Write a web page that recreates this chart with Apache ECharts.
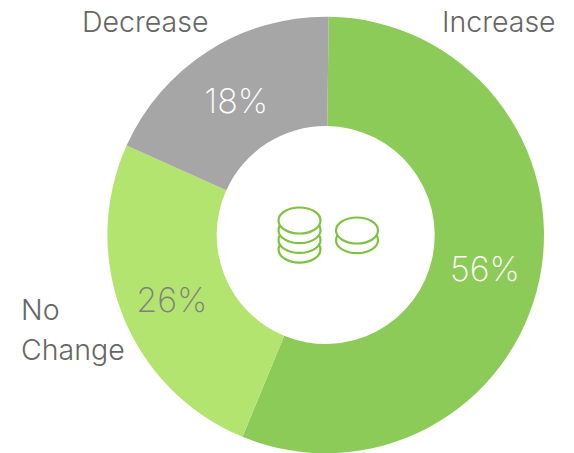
<!DOCTYPE html>
<html><head><meta charset="utf-8">
<style>html,body{margin:0;padding:0;background:#fff;overflow:hidden}#c{width:574px;height:453px}</style>
<script src="https://cdn.jsdelivr.net/npm/echarts@6/dist/echarts.min.js"></script></head>
<body><div id="c"></div>
<script>
const categories=['Increase','No Change','Decrease'];
const shares=[56.0,25.5,18.5];
const labels=['56%','26%','18%'];
const colors=['#8CCB57','#B4E470','#A6A6A6'];
const labelColors=['#ffffff','#7f7f7f','#ffffff'];
const labelShift=[[-4,0],[1,3],[0,6]];
const chart=echarts.init(document.getElementById('c'),null,{renderer:'svg'});
const font='Inter, "Open Sans", sans-serif';
const stroke={stroke:'#7FC241',lineWidth:2.2,fill:'#fff'};
function stack(cx,top,n){
  const out=[];
  for(let i=0;i<n;i++){
    out.push({type:'ellipse',shape:{cx:cx,cy:top+i*9.7,rx:21,ry:13},style:stroke,z:20-i});
  }
  return out;
}
const kids=[...stack(299.5,220.5,4),...stack(357,230.5,2)];
const texts=[['Decrease',82,21],['Increase',442,21],['No',21,309],['Change',21,349]];
texts.forEach(t=>kids.push({type:'text',x:t[1],y:t[2],style:{text:t[0],fill:'#666666',font:'300 28.5px '+font,verticalAlign:'middle'},z:30}));
chart.setOption({
 animation:false,
 graphic:[{type:'group',children:kids,z:30}],
 series:[{type:'pie',center:[325.7,235],radius:[109,218.3],startAngle:89.2,clockwise:true,
  data:categories.map((n,i)=>({name:n,value:shares[i],itemStyle:{color:colors[i]},
   label:{color:labelColors[i],formatter:labels[i]}})),
  label:{position:'inside',fontFamily:font,fontSize:34,fontWeight:200},
  labelLayout:p=>({dx:labelShift[p.dataIndex][0],dy:labelShift[p.dataIndex][1]}),
  labelLine:{show:false}}]
});
</script></body></html>
